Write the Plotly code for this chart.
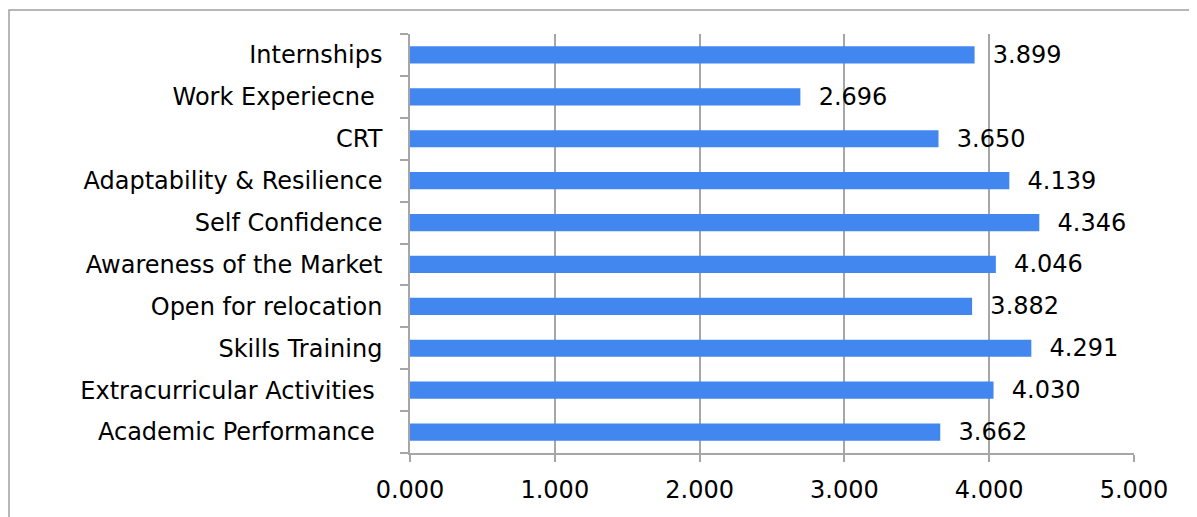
import plotly.graph_objects as go

categories = [
    "Academic Performance\u00a0",
    "Extracurricular Activities\u00a0",
    "Skills Training",
    "Open for relocation",
    "Awareness of the Market",
    "Self Confidence",
    "Adaptability & Resilience",
    "CRT",
    "Work Experiecne\u00a0",
    "Internships",
]
values = [3.662, 4.030, 4.291, 3.882, 4.046, 4.346, 4.139, 3.650, 2.696, 3.899]
x_ticks = [0, 1, 2, 3, 4, 5]
x_tick_labels = ["0.000", "1.000", "2.000", "3.000", "4.000", "5.000"]

FONT = "DejaVu Sans"
FS = 24
GRID = "#a6a6a6"

fig = go.Figure(
    go.Bar(
        x=values,
        y=categories,
        orientation="h",
        marker=dict(color="#4286F0", line=dict(width=0)),
        texttemplate="\u00a0\u00a0%{x:.3f}",
        textposition="outside",
        constraintext="none",
        cliponaxis=False,
        textfont=dict(family=FONT, size=FS, color="#000000"),
        hoverinfo="skip",
    )
)

fig.update_layout(
    width=1197,
    height=517,
    autosize=False,
    margin=dict(l=402, r=71, t=26, b=72),
    paper_bgcolor="white",
    plot_bgcolor="white",
    bargap=0.59,
    showlegend=False,
    font=dict(family=FONT, size=FS, color="#000000"),
    shapes=[
        dict(
            type="rect",
            xref="paper",
            yref="paper",
            x0=(9 - 410) / 724,
            x1=(1215 - 410) / 724,
            y0=(453 - 540) / 419,
            y1=(453 - 10) / 419,
            line=dict(color="#a0a0a0", width=1.5),
            fillcolor="rgba(0,0,0,0)",
            layer="below",
        )
    ],
)

fig.update_xaxes(
    range=[0, 5],
    tickvals=x_ticks,
    ticktext=x_tick_labels,
    showgrid=True,
    gridcolor=GRID,
    gridwidth=1.5,
    showline=True,
    linecolor=GRID,
    linewidth=1.5,
    ticks="outside",
    ticklen=7,
    tickcolor=GRID,
    tickwidth=1.5,
    zeroline=False,
    ticklabelstandoff=7,
    tickfont=dict(family=FONT, size=FS, color="#000000"),
    fixedrange=True,
)

fig.update_yaxes(
    type="category",
    categoryorder="array",
    categoryarray=categories,
    tickson="boundaries",
    ticks="outside",
    ticklen=8,
    tickcolor=GRID,
    tickwidth=1.5,
    showline=True,
    linecolor=GRID,
    linewidth=1.5,
    showgrid=False,
    ticklabelstandoff=21,
    tickfont=dict(family=FONT, size=FS, color="#000000"),
    fixedrange=True,
)

fig.write_html("out.html")
